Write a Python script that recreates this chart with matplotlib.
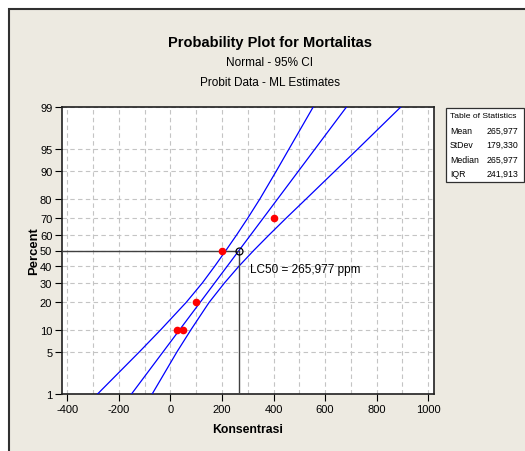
import numpy as np
import matplotlib
matplotlib.use("Agg")
import matplotlib.pyplot as plt
from matplotlib.patches import Rectangle
from statistics import NormalDist

plt.rcParams['font.family'] = ['Liberation Sans', 'DejaVu Sans']

# ---- data ----
conc = [25, 50, 100, 200, 400]
mortality_pct = [10, 10, 20, 50, 70]

mean = 265.977
stdev = 179.330
median = 265.977
iqr = 241.913

stat_labels = ["Mean", "StDev", "Median", "IQR"]
stat_values = ["265,977", "179,330", "265,977", "241,913"]

# 95% CI band: percent level -> concentration
band_pct = [1, 5, 10, 20, 30, 40, 50, 60, 70, 80, 90, 95, 99]
band_lower = [-283, -121, -37, 61, 124, 172, 215, 257, 300, 348, 410, 460, 554]
band_upper = [-71, 25, 80, 150, 210, 266, 323, 383, 449, 528, 637, 727, 894]

fit_pct = [1, 99]

xticks = [-400, -200, 0, 200, 400, 600, 800, 1000]
yticks = [1, 5, 10, 20, 30, 40, 50, 60, 70, 80, 90, 95, 99]

# ---- normal probability scale ----
_nd = NormalDist()

def _fwd(p):
    p = np.asarray(p, dtype=float)
    res = np.full(p.size, np.nan)
    for i, v in enumerate(p.ravel()):
        if np.isfinite(v):
            q = min(max(v / 100.0, 1e-9), 1 - 1e-9)
            res[i] = _nd.inv_cdf(q)
    return res.reshape(p.shape)

def _inv(z):
    z = np.asarray(z, dtype=float)
    res = np.full(z.size, np.nan)
    for i, v in enumerate(z.ravel()):
        if np.isfinite(v):
            res[i] = _nd.cdf(v) * 100.0
    return res.reshape(z.shape)

W, H = 525, 452
bg = '#EDEAE1'
fig = plt.figure(figsize=(W / 100, H / 100), dpi=100, facecolor='white')

def fx(x):
    return x / W

def fy(y):
    return 1 - y / H

# beige panel with dark frame
fig.patches.append(Rectangle((fx(9), fy(H + 20)), fx(W + 20) - fx(9), fy(10) - fy(H + 20),
                             transform=fig.transFigure, facecolor=bg, edgecolor='#303030',
                             linewidth=1.5, zorder=-10))

ax = fig.add_axes([fx(62), fy(395), fx(434) - fx(62), fy(108) - fy(395)])
ax.set_facecolor('white')
ax.set_yscale('function', functions=(_fwd, _inv))
ax.set_xlim(-421, 1023)
ax.set_ylim(1, 99)
ax.set_yticks(yticks)
ax.set_yticklabels([str(t) for t in yticks])
ax.set_xticks(xticks)
ax.set_xticklabels([str(t) for t in xticks])
ax.set_xticks(np.arange(-300, 1001, 200), minor=True)
ax.yaxis.set_minor_locator(matplotlib.ticker.NullLocator())

ax.grid(True, which='both', axis='x', color='#C4C4C4', linestyle=(0, (4, 3)), linewidth=0.8)
ax.grid(True, which='major', axis='y', color='#C4C4C4', linestyle=(0, (4, 3)), linewidth=0.8)
ax.set_axisbelow(True)

ax.tick_params(axis='both', which='major', direction='out', length=5, width=0.8,
               labelsize=8, colors='black', pad=2)
ax.tick_params(axis='x', which='minor', length=0)
for s in ax.spines.values():
    s.set_color('#202020')
    s.set_linewidth(1.2)

# CI bands
ax.plot(band_lower, band_pct, color='#0000FF', lw=0.9, zorder=3)
ax.plot(band_upper, band_pct, color='#0000FF', lw=0.9, zorder=3)
# fitted line
fit_x = [mean + stdev * _nd.inv_cdf(p / 100.0) for p in fit_pct]
ax.plot(fit_x, fit_pct, color='#0000FF', lw=0.9, zorder=3)

# LC50 reference lines
ax.plot([-421, mean], [50, 50], color='#404040', lw=1.0, zorder=4)
ax.plot([mean, mean], [1, 50], color='#404040', lw=1.0, zorder=4)
ax.plot([mean], [50], marker='o', markersize=5, markerfacecolor='none',
        markeredgecolor='black', markeredgewidth=0.9, zorder=6, clip_on=False)

# data points
ax.plot(conc, mortality_pct, 'o', color='#FF0000', markersize=5.5, markeredgewidth=0, zorder=5)

ax.text(308, 38.3, "LC50 = 265,977 ppm", fontsize=8.5, ha='left', va='center', color='black')

ax.set_xlabel("Konsentrasi", fontsize=8.8, fontweight='bold', labelpad=7)
ax.set_ylabel("Percent", fontsize=9.4, fontweight='bold', labelpad=0)

# titles
fig.text(fx(270), fy(43.5), "Probability Plot for Mortalitas", fontsize=10.5, fontweight='bold',
         ha='center', va='center')
fig.text(fx(270), fy(62.5), "Normal - 95% CI", fontsize=8.5, ha='center', va='center')
fig.text(fx(270), fy(82.5), "Probit Data - ML Estimates", fontsize=8.5, ha='center', va='center')

# statistics table
fig.patches.append(Rectangle((fx(446), fy(183)), fx(524) - fx(446), fy(109) - fy(183),
                             transform=fig.transFigure, facecolor='white', edgecolor='#303030',
                             linewidth=0.9, zorder=5))
fig.text(fx(450), fy(116.7), "Table of Statistics", fontsize=6.1, ha='left', va='center', zorder=6)
rows_y = [131.7, 145.7, 160.3, 174.3]
for lab, val, y in zip(stat_labels, stat_values, rows_y):
    fig.text(fx(450), fy(y), lab, fontsize=6.3, ha='left', va='center', zorder=6)
    fig.text(fx(518), fy(y), val, fontsize=6.3, ha='right', va='center', zorder=6)

fig.savefig("out.png", dpi=100, facecolor=fig.get_facecolor())
